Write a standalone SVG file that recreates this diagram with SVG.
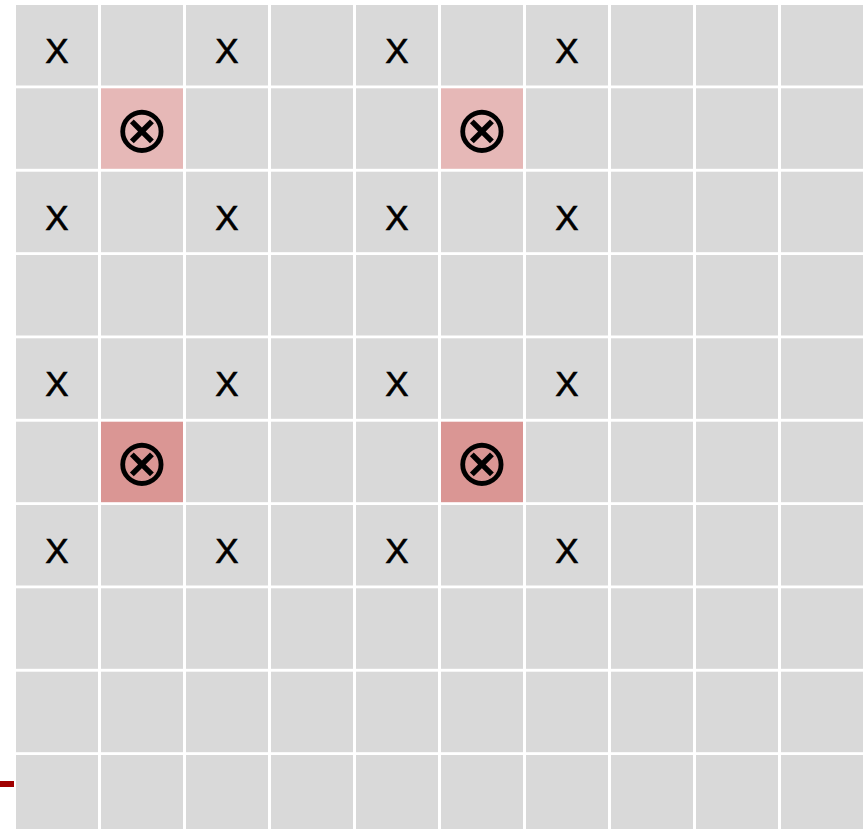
<svg xmlns="http://www.w3.org/2000/svg" width="863" height="829" viewBox="0 0 863 829">
<style>
.c{fill:#d9d9d9}
.p1{fill:#e6b8b7}
.p2{fill:#da9694}
.x{font-family:"Liberation Sans",Arial,sans-serif;font-size:35px;fill:#000;stroke:#000;stroke-width:0.6px;text-anchor:middle}
.o{font-family:"DejaVu Sans",sans-serif;font-size:66px;fill:#000;text-anchor:middle}
</style>
<rect width="863" height="829" fill="#ffffff"/>
<g id="grid">
<g id="row0"><rect class="c" x="16" y="5" width="82" height="80.5"/><rect class="c" x="101" y="5" width="82" height="80.5"/><rect class="c" x="186" y="5" width="82" height="80.5"/><rect class="c" x="271" y="5" width="82" height="80.5"/><rect class="c" x="356" y="5" width="82" height="80.5"/><rect class="c" x="441" y="5" width="82" height="80.5"/><rect class="c" x="526" y="5" width="82" height="80.5"/><rect class="c" x="611" y="5" width="82" height="80.5"/><rect class="c" x="696" y="5" width="82" height="80.5"/><rect class="c" x="781" y="5" width="82" height="80.5"/></g>
<g id="row1"><rect class="c" x="16" y="88.3" width="82" height="80.5"/><rect class="p1" x="101" y="88.3" width="82" height="80.5"/><rect class="c" x="186" y="88.3" width="82" height="80.5"/><rect class="c" x="271" y="88.3" width="82" height="80.5"/><rect class="c" x="356" y="88.3" width="82" height="80.5"/><rect class="p1" x="441" y="88.3" width="82" height="80.5"/><rect class="c" x="526" y="88.3" width="82" height="80.5"/><rect class="c" x="611" y="88.3" width="82" height="80.5"/><rect class="c" x="696" y="88.3" width="82" height="80.5"/><rect class="c" x="781" y="88.3" width="82" height="80.5"/></g>
<g id="row2"><rect class="c" x="16" y="171.7" width="82" height="80.5"/><rect class="c" x="101" y="171.7" width="82" height="80.5"/><rect class="c" x="186" y="171.7" width="82" height="80.5"/><rect class="c" x="271" y="171.7" width="82" height="80.5"/><rect class="c" x="356" y="171.7" width="82" height="80.5"/><rect class="c" x="441" y="171.7" width="82" height="80.5"/><rect class="c" x="526" y="171.7" width="82" height="80.5"/><rect class="c" x="611" y="171.7" width="82" height="80.5"/><rect class="c" x="696" y="171.7" width="82" height="80.5"/><rect class="c" x="781" y="171.7" width="82" height="80.5"/></g>
<g id="row3"><rect class="c" x="16" y="255" width="82" height="80.5"/><rect class="c" x="101" y="255" width="82" height="80.5"/><rect class="c" x="186" y="255" width="82" height="80.5"/><rect class="c" x="271" y="255" width="82" height="80.5"/><rect class="c" x="356" y="255" width="82" height="80.5"/><rect class="c" x="441" y="255" width="82" height="80.5"/><rect class="c" x="526" y="255" width="82" height="80.5"/><rect class="c" x="611" y="255" width="82" height="80.5"/><rect class="c" x="696" y="255" width="82" height="80.5"/><rect class="c" x="781" y="255" width="82" height="80.5"/></g>
<g id="row4"><rect class="c" x="16" y="338.3" width="82" height="80.5"/><rect class="c" x="101" y="338.3" width="82" height="80.5"/><rect class="c" x="186" y="338.3" width="82" height="80.5"/><rect class="c" x="271" y="338.3" width="82" height="80.5"/><rect class="c" x="356" y="338.3" width="82" height="80.5"/><rect class="c" x="441" y="338.3" width="82" height="80.5"/><rect class="c" x="526" y="338.3" width="82" height="80.5"/><rect class="c" x="611" y="338.3" width="82" height="80.5"/><rect class="c" x="696" y="338.3" width="82" height="80.5"/><rect class="c" x="781" y="338.3" width="82" height="80.5"/></g>
<g id="row5"><rect class="c" x="16" y="421.7" width="82" height="80.5"/><rect class="p2" x="101" y="421.7" width="82" height="80.5"/><rect class="c" x="186" y="421.7" width="82" height="80.5"/><rect class="c" x="271" y="421.7" width="82" height="80.5"/><rect class="c" x="356" y="421.7" width="82" height="80.5"/><rect class="p2" x="441" y="421.7" width="82" height="80.5"/><rect class="c" x="526" y="421.7" width="82" height="80.5"/><rect class="c" x="611" y="421.7" width="82" height="80.5"/><rect class="c" x="696" y="421.7" width="82" height="80.5"/><rect class="c" x="781" y="421.7" width="82" height="80.5"/></g>
<g id="row6"><rect class="c" x="16" y="505" width="82" height="80.5"/><rect class="c" x="101" y="505" width="82" height="80.5"/><rect class="c" x="186" y="505" width="82" height="80.5"/><rect class="c" x="271" y="505" width="82" height="80.5"/><rect class="c" x="356" y="505" width="82" height="80.5"/><rect class="c" x="441" y="505" width="82" height="80.5"/><rect class="c" x="526" y="505" width="82" height="80.5"/><rect class="c" x="611" y="505" width="82" height="80.5"/><rect class="c" x="696" y="505" width="82" height="80.5"/><rect class="c" x="781" y="505" width="82" height="80.5"/></g>
<g id="row7"><rect class="c" x="16" y="588.3" width="82" height="80.5"/><rect class="c" x="101" y="588.3" width="82" height="80.5"/><rect class="c" x="186" y="588.3" width="82" height="80.5"/><rect class="c" x="271" y="588.3" width="82" height="80.5"/><rect class="c" x="356" y="588.3" width="82" height="80.5"/><rect class="c" x="441" y="588.3" width="82" height="80.5"/><rect class="c" x="526" y="588.3" width="82" height="80.5"/><rect class="c" x="611" y="588.3" width="82" height="80.5"/><rect class="c" x="696" y="588.3" width="82" height="80.5"/><rect class="c" x="781" y="588.3" width="82" height="80.5"/></g>
<g id="row8"><rect class="c" x="16" y="671.7" width="82" height="80.5"/><rect class="c" x="101" y="671.7" width="82" height="80.5"/><rect class="c" x="186" y="671.7" width="82" height="80.5"/><rect class="c" x="271" y="671.7" width="82" height="80.5"/><rect class="c" x="356" y="671.7" width="82" height="80.5"/><rect class="c" x="441" y="671.7" width="82" height="80.5"/><rect class="c" x="526" y="671.7" width="82" height="80.5"/><rect class="c" x="611" y="671.7" width="82" height="80.5"/><rect class="c" x="696" y="671.7" width="82" height="80.5"/><rect class="c" x="781" y="671.7" width="82" height="80.5"/></g>
<g id="row9"><rect class="c" x="16" y="755" width="82" height="80.5"/><rect class="c" x="101" y="755" width="82" height="80.5"/><rect class="c" x="186" y="755" width="82" height="80.5"/><rect class="c" x="271" y="755" width="82" height="80.5"/><rect class="c" x="356" y="755" width="82" height="80.5"/><rect class="c" x="441" y="755" width="82" height="80.5"/><rect class="c" x="526" y="755" width="82" height="80.5"/><rect class="c" x="611" y="755" width="82" height="80.5"/><rect class="c" x="696" y="755" width="82" height="80.5"/><rect class="c" x="781" y="755" width="82" height="80.5"/></g>
</g>
<g id="labels">
<text class="x" x="57" y="63">X</text><text class="x" x="227" y="63">X</text><text class="x" x="397" y="63">X</text><text class="x" x="567" y="63">X</text>
<text class="x" x="57" y="229.7">X</text><text class="x" x="227" y="229.7">X</text><text class="x" x="397" y="229.7">X</text><text class="x" x="567" y="229.7">X</text>
<text class="x" x="57" y="396.3">X</text><text class="x" x="227" y="396.3">X</text><text class="x" x="397" y="396.3">X</text><text class="x" x="567" y="396.3">X</text>
<text class="x" x="57" y="563">X</text><text class="x" x="227" y="563">X</text><text class="x" x="397" y="563">X</text><text class="x" x="567" y="563">X</text>
<text class="o" x="142" y="152">⊗</text><text class="o" x="482" y="152">⊗</text>
<text class="o" x="142" y="485.4">⊗</text><text class="o" x="482" y="485.4">⊗</text>
</g>
<rect id="marker" x="0" y="781" width="14" height="6" fill="#a00000"/>
</svg>
